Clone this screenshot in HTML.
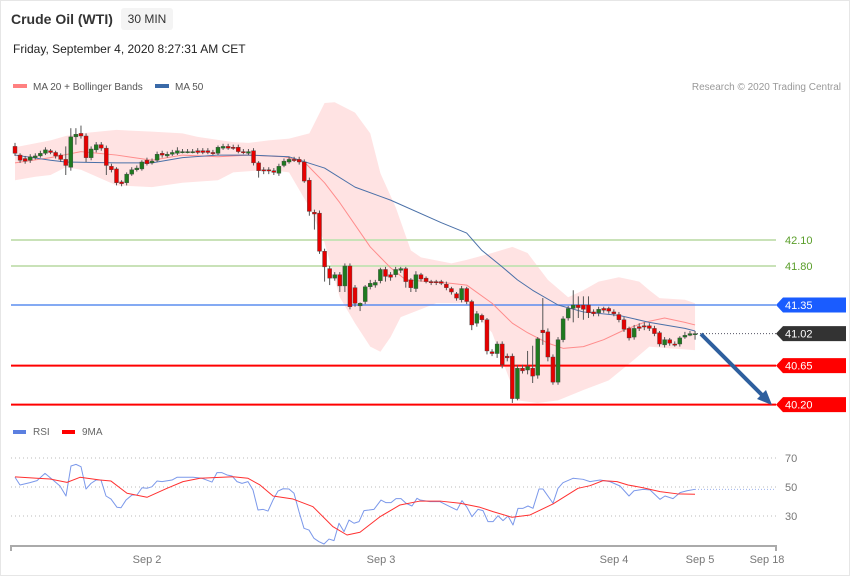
<!DOCTYPE html>
<html><head><meta charset="utf-8"><style>
body{margin:0;background:#fff;font-family:"Liberation Sans",sans-serif;}
svg{display:block}
</style></head><body>
<svg id="c" width="850" height="576" xmlns="http://www.w3.org/2000/svg">
<rect x="0.5" y="0.5" width="849" height="575" fill="#fff" stroke="#e6e6e6"/>
<text x="11" y="24" font-size="14" font-weight="bold" fill="#333">Crude Oil (WTI)</text>
<rect x="121" y="8" width="52" height="22" rx="3" fill="#f4f4f4"/>
<text x="147" y="23" font-size="12" fill="#333" text-anchor="middle">30 MIN</text>
<text x="13" y="53" font-size="12" fill="#222">Friday, September 4, 2020 8:27:31 AM CET</text>
<rect x="13" y="84" width="14" height="4" fill="#ff8080"/>
<text x="33" y="90" font-size="10" fill="#555">MA 20 + Bollinger Bands</text>
<rect x="155" y="84" width="14" height="4" fill="#3a6aa8"/>
<text x="175" y="90" font-size="10" fill="#555">MA 50</text>
<text x="841" y="90" font-size="10" fill="#999" text-anchor="end">Research © 2020 Trading Central</text>
<g id="main"></g>
<g id="rsi"></g>
</svg>
<script>
const opens=[43.18,43.08,43.04,43.02,43.05,43.07,43.10,43.13,43.11,43.08,43.03,42.94,43.29,43.33,43.30,43.05,43.14,43.20,43.16,42.95,42.92,42.77,42.76,42.86,42.91,42.92,43.02,42.99,43.02,43.10,43.07,43.09,43.10,43.12,43.12,43.12,43.13,43.13,43.13,43.11,43.10,43.16,43.18,43.17,43.17,43.12,43.10,43.13,42.99,42.91,42.91,42.90,42.87,42.96,43.00,43.03,43.03,43.00,42.79,42.42,42.41,41.97,41.77,41.66,41.70,41.57,41.80,41.55,41.34,41.39,41.56,41.58,41.63,41.76,41.70,41.70,41.75,41.77,41.64,41.54,41.70,41.66,41.62,41.62,41.62,41.59,41.54,41.48,41.41,41.54,41.39,41.14,41.23,41.18,40.81,40.79,40.90,40.76,40.76,40.27,40.62,40.60,40.62,40.54,41.06,41.04,40.75,40.46,40.95,41.20,41.31,41.35,41.35,41.35,41.27,41.26,41.31,41.31,41.27,41.24,41.18,41.08,40.98,41.10,41.11,41.11,41.08,41.03,40.89,40.95,40.90,40.90,40.98,41.00,41.02];
const closes=[43.10,43.02,43.01,43.06,43.07,43.10,43.14,43.11,43.07,43.03,42.96,43.29,43.32,43.30,43.05,43.15,43.20,43.16,42.96,42.91,42.76,42.75,42.86,42.91,42.93,43.00,42.98,43.01,43.09,43.08,43.09,43.11,43.13,43.12,43.12,43.12,43.11,43.11,43.11,43.10,43.17,43.18,43.16,43.16,43.12,43.11,43.12,42.99,42.90,42.90,42.90,42.88,42.95,43.01,43.03,43.02,43.00,42.78,42.43,42.40,41.97,41.79,41.66,41.70,41.57,41.80,41.33,41.37,41.37,41.56,41.60,41.61,41.76,41.68,41.67,41.76,41.77,41.62,41.55,41.70,41.65,41.62,41.61,41.61,41.60,41.55,41.50,41.43,41.54,41.39,41.12,41.25,41.18,40.82,40.79,40.90,40.66,40.74,40.27,40.62,40.59,40.64,40.53,40.96,41.03,40.75,40.46,40.95,41.19,41.31,41.35,41.32,41.30,41.26,41.25,41.30,41.29,41.28,41.25,41.18,41.07,40.97,41.08,41.08,41.10,41.08,41.02,40.90,40.95,40.91,40.89,40.97,41.00,41.02,41.02];
const highs=[43.22,43.10,43.07,43.09,43.10,43.13,43.17,43.15,43.13,43.10,43.18,43.39,43.39,43.42,43.33,43.18,43.23,43.23,43.19,42.98,42.94,42.79,42.88,42.94,42.96,43.02,43.05,43.04,43.12,43.13,43.12,43.14,43.17,43.15,43.15,43.15,43.16,43.16,43.16,43.14,43.19,43.21,43.21,43.20,43.20,43.15,43.15,43.16,43.01,42.94,42.94,42.93,42.98,43.04,43.06,43.06,43.06,43.03,42.82,42.45,42.44,42.00,41.80,41.73,41.73,41.83,41.83,41.58,41.38,41.58,41.64,41.64,41.78,41.79,41.73,41.79,41.79,41.79,41.66,41.74,41.72,41.68,41.64,41.64,41.64,41.62,41.56,41.50,41.57,41.56,41.41,41.28,41.25,41.20,40.84,40.93,40.93,40.79,40.79,40.66,40.66,40.82,40.88,40.98,41.43,41.08,40.78,40.98,41.22,41.34,41.52,41.45,41.45,41.45,41.30,41.33,41.33,41.33,41.30,41.27,41.21,41.10,41.12,41.14,41.15,41.14,41.11,41.05,40.98,40.97,40.93,40.99,41.04,41.05,41.05];
const lows=[43.07,42.99,42.98,42.99,43.03,43.05,43.08,43.09,43.04,43.00,42.85,42.90,43.20,43.27,43.00,43.02,43.11,43.13,42.85,42.88,42.73,42.72,42.73,42.84,42.89,42.90,42.96,42.97,43.00,43.05,43.05,43.07,43.08,43.10,43.10,43.10,43.09,43.09,43.09,43.08,43.08,43.14,43.14,43.14,43.10,43.09,43.08,42.96,42.82,42.86,42.86,42.85,42.84,42.94,42.98,43.00,42.97,42.76,42.38,42.22,41.94,41.62,41.58,41.63,41.50,41.50,41.30,41.33,41.28,41.36,41.53,41.55,41.60,41.62,41.63,41.67,41.72,41.55,41.50,41.50,41.62,41.60,41.58,41.58,41.58,41.52,41.47,41.40,41.38,41.36,41.06,41.10,41.15,40.78,40.76,40.74,40.62,40.70,40.22,40.25,40.56,40.55,40.45,40.50,40.89,40.70,40.43,40.43,40.92,41.17,41.15,41.20,41.18,41.20,41.22,41.22,41.26,41.25,41.22,41.15,41.04,40.94,40.95,41.05,41.06,41.05,40.99,40.87,40.86,40.88,40.87,40.87,40.96,40.99,40.95];
const bbUpIdx=[0,7,10,13,20,27,33,36,43,46,50,54,58,61,63,67,70,72,75,78,80,86,89,94,98,101,105,109,112,115,119,123,125,127,132,134];
const bbUp=[43.17,43.25,43.30,43.33,43.37,43.35,43.33,43.29,43.23,43.22,43.25,43.27,43.33,43.68,43.69,43.57,43.33,42.87,42.48,41.98,41.90,41.83,41.87,41.95,42.02,41.95,41.64,41.44,41.52,41.62,41.67,41.62,41.52,41.43,41.41,41.37];
const bbLoIdx=[0,4,7,10,13,20,27,33,40,43,50,54,58,61,64,67,70,72,74,76,83,89,94,97,99,103,107,112,117,122,125,129,134];
const bbLo=[42.79,42.83,42.85,42.94,42.91,42.73,42.71,42.76,42.79,42.88,42.91,42.88,42.48,42.07,41.44,41.14,40.87,40.81,40.98,41.21,41.37,41.37,41.03,40.56,40.25,40.22,40.25,40.37,40.48,40.72,40.87,40.85,40.83];
const ma20Idx=[0,7,13,20,27,33,40,46,53,57,61,64,70,74,77,86,89,94,98,101,105,108,112,116,120,124,128,132,134];
const ma20=[42.99,43.05,43.12,43.08,43.02,43.08,43.06,43.08,43.06,43.00,42.76,42.53,42.02,41.78,41.64,41.60,41.58,41.37,41.14,41.03,40.91,40.85,40.87,40.95,41.06,41.15,41.20,41.15,41.12];
const ma50Idx=[0,7,10,20,27,33,40,46,54,61,67,74,84,89,92,96,99,102,107,112,119,125,132,134];
const ma50=[43.08,43.02,43.00,42.99,42.99,43.05,43.08,43.08,43.06,42.93,42.71,42.56,42.30,42.18,41.98,41.79,41.64,41.52,41.35,41.27,41.23,41.15,41.08,41.05];
const levelValues=[42.10,41.80,41.35,41.02,40.65,40.20];
const rsiX=[15,20,30,37,45,53,60,66,71,76,81,86,91,96,101,106,111,117,121,126,132,137,142,147,152,157,162,172,177,193,202,212,217,222,227,232,237,242,248,253,258,263,268,273,278,283,289,294,299,304,309,314,319,324,329,334,339,344,349,354,359,364,369,374,381,386,391,396,401,406,412,417,420,430,440,450,457,462,467,472,478,483,488,493,498,503,508,513,518,523,528,533,539,543,553,558,563,573,583,590,600,610,620,629,634,643,650,660,665,673,680,687,695];
const rsiVals=[56.7,51.4,53,54.4,59.4,54.8,50.7,43.8,64.5,65.6,64,48.6,52.5,54.8,54.8,43.8,41.7,36,35.7,41,44.5,44.5,49.5,49.1,50.2,54.1,53.7,54.8,56.7,56.7,56,53.4,59.9,59.9,58.3,57.6,53.7,52.5,53.7,47.9,34.1,34.6,33.4,41,47.2,48.8,48.6,45.7,33,21.5,20.3,14.6,12.3,10.7,14.1,13,25,19.2,27.2,25,26.1,33.7,34.1,34.6,41,39.2,39.2,42,42,38.8,36.9,42.2,41,39.9,39.9,36.4,34.1,40.6,36,29.5,34.6,33.7,26.1,26.1,30.2,26.8,30,23.8,35.3,35.3,36.9,35.3,48.6,48.6,38.8,49.1,53,56,55.3,53.7,54.8,53.7,50.7,43.8,47.4,48.4,48,41.5,43.8,42,46.1,47.4,48.4];
const maX=[15,37,50,67,80,100,111,127,147,167,183,200,233,248,260,273,293,313,333,347,360,380,400,420,440,460,480,493,512,530,553,578,590,603,617,628,643,660,677,695];
const maVals=[57,56,55.5,53.2,56.7,54.8,54.1,45.7,42.9,49.1,53.7,56,57.1,56,51.4,43.8,41.7,36.4,22.6,16.9,18.8,29.5,37.6,40.3,40.3,38.8,36,33,29.1,30.7,38.3,49.1,50.9,54.4,53.7,51.4,49.5,46.8,45.3,45];
const rsiTicks=[70,50,30];
const dateLabels=["Sep 2","Sep 3","Sep 4","Sep 5","Sep 18"];
const datePos=[147,381,614,700,767];

const NS="http://www.w3.org/2000/svg";
const X=i=>15+i*5.075;
const Y=p=>240+(42.10-p)*86.67;
const RY=v=>487-(v-50)*1.45;
function mk(parent,tag,attrs){const e=document.createElementNS(NS,tag);for(const k in attrs)e.setAttribute(k,attrs[k]);parent.appendChild(e);return e;}
const main=document.getElementById('main'), rsi=document.getElementById('rsi');

let pts=bbUpIdx.map((i,k)=>X(i)+','+Y(bbUp[k]));
pts=pts.concat(bbLoIdx.map((i,k)=>X(i)+','+Y(bbLo[k])).reverse());
let band=mk(main,'polygon',{points:pts.join(' '),fill:'#ffe3e3','stroke':'none','stroke-linejoin':'round'});



const lvlStyle=[['#c9e2b8',2,'#5a9e2a','none'],['#c9e2b8',2,'#5a9e2a','none'],['#5b8def',1.5,'#fff','#1a5cff'],['#556',1,'#fff','#333'],['#ff0000',2,'#fff','#ff0000'],['#ff0000',2,'#fff','#ff0000']];
const lvlNames=['resistance-42-10','resistance-41-80','pivot-41-35','last-price-41-02','support-40-65','support-40-20'];
levelValues.forEach((v,k)=>{
  const y=Y(v),s=lvlStyle[k];
  const x1=k===3?697:11;
  const ln=mk(main,'line',{x1:x1,x2:776,y1:y,y2:y,stroke:s[0],'stroke-width':s[1]});
  if(k===3)ln.setAttribute('stroke-dasharray','1,2');
  
  
  if(s[3]!=='none'){
    const tg=mk(main,'polygon',{points:`776,${y} 783,${y-7.5} 846,${y-7.5} 846,${y+7.5} 783,${y+7.5}`,fill:s[3]});
    
    
  }
  const t=mk(main,'text',{x:785,y:y+4,'font-size':11,fill:s[2]});
  t.textContent=v.toFixed(2);
  
  
});

function line(parent,idx,vals,fx,fy,color,w,name){
  const p=mk(parent,'polyline',{points:idx.map((i,k)=>fx(i)+','+fy(vals[k])).join(' '),fill:'none',stroke:color,'stroke-width':w,'stroke-linejoin':'round'});
  
  
}
line(main,ma20Idx,ma20,X,Y,'#ff8c8c',1,'ma20-line');
line(main,ma50Idx,ma50,X,Y,'#4a70a8',1,'ma50-line');

opens.forEach((o,i)=>{
  const c=closes[i],x=X(i),up=c>=o;
  const g=mk(main,'g',{});
  
  
  mk(g,'line',{x1:x,x2:x,y1:Y(highs[i]),y2:Y(lows[i]),stroke:'#555','stroke-width':1});
  const top=Y(Math.max(o,c)),h=Math.max(1.2,Y(Math.min(o,c))-top);
  mk(g,'rect',{x:x-2,y:top,width:4,height:h,fill:up?'#1f7a1f':'#e60000',stroke:'#444','stroke-width':0.4});
});

const ar=mk(main,'g',{});


mk(ar,'line',{x1:701,y1:334,x2:764,y2:397,stroke:'#2e5f9e','stroke-width':4});
mk(ar,'polygon',{points:'772,405 757,399 766,390',fill:'#2e5f9e'});

const lg=[['#5b7fe0','RSI',13,33],['#ff0000','9MA',62,82]];
lg.forEach(l=>{
  const r=mk(rsi,'rect',{x:l[2],y:430,width:13,height:4,fill:l[0]});
  
  
  const t=mk(rsi,'text',{x:l[3],y:435,'font-size':10,fill:'#666'});t.textContent=l[1];
  
  
});
rsiTicks.forEach(v=>{
  const gl=mk(rsi,'line',{x1:11,x2:776,y1:RY(v),y2:RY(v),stroke:'#bbb','stroke-width':1,'stroke-dasharray':'1,3'});
  
  
  const t=mk(rsi,'text',{x:785,y:RY(v)+4,'font-size':11,fill:'#777'});t.textContent=v;
  
  
});
line(rsi,rsiX,rsiVals,x=>x,RY,'#7b98ea',1,'rsi-line');
line(rsi,maX,maVals,x=>x,RY,'#ff3030',1,'rsi-9ma-line');
const lastR=rsiVals[rsiVals.length-1];
const dl=mk(rsi,'line',{x1:695,x2:776,y1:RY(lastR),y2:RY(lastR),stroke:'#9db2ee','stroke-width':1,'stroke-dasharray':'1,2'});



const ax=mk(rsi,'path',{d:'M11,551 V546 H776 V551',fill:'none',stroke:'#aaa','stroke-width':2});


dateLabels.forEach((d,k)=>{
  const t=mk(rsi,'text',{x:datePos[k],y:563,'font-size':11,fill:'#777','text-anchor':'middle'});t.textContent=d;
  
  
});
</script>
</body></html>
